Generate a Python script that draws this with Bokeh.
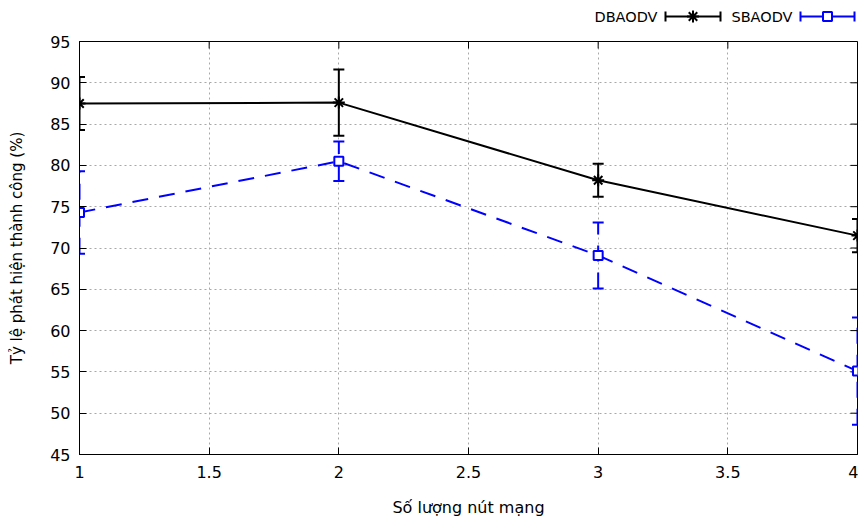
from bokeh.plotting import figure
from bokeh.layouts import column
from bokeh.models import (ColumnDataSource, Whisker, TeeHead, FixedTicker, Range1d)
from bokeh.core.properties import value
from bokeh.embed import file_html
from bokeh.resources import INLINE

# ---- data ----
x_values = [1, 2, 3, 4]
dbaodv = [87.5, 87.6, 78.2, 71.5]
dbaodv_err = [3.2, 4.0, 2.0, 2.0]
sbaodv = [74.3, 80.5, 69.1, 55.1]
sbaodv_err = [5.0, 2.4, 4.0, 6.5]
series_names = ["DBAODV", "SBAODV"]
x_ticks = [1, 1.5, 2, 2.5, 3, 3.5, 4]
x_tick_labels = ["1", "1.5", "2", "2.5", "3", "3.5", "4"]
y_ticks = [45, 50, 55, 60, 65, 70, 75, 80, 85, 90, 95]
x_label = "Số lượng nút mạng"
y_label = "Tỷ lệ phát hiện thành công (%)"

FONT = "DejaVu Sans"
FS = "16px"
BLACK = "#000000"
BLUE = "#0000ff"
DASH = "16 11"

LEFT = 79
RIGHT = 1
FW, FH = 778, 413
LEG_H = 30
TOP = 11
TICK = 7

X0, X1 = 1, 4
Y0, Y1 = 45, 95

# ---------------- main figure ----------------
p = figure(frame_width=FW, frame_height=FH,
           x_range=Range1d(X0, X1), y_range=Range1d(Y0, Y1),
           output_backend="svg", toolbar_location=None,
           min_border_left=LEFT, min_border_top=TOP,
           min_border_right=RIGHT, min_border_bottom=0)
p.background_fill_color = "white"
p.border_fill_color = "white"
p.outline_line_color = BLACK
p.outline_line_width = 1

p.xaxis.ticker = FixedTicker(ticks=x_ticks)
p.xaxis.major_label_overrides = {float(t): l for t, l in zip(x_ticks, x_tick_labels)}
p.yaxis.ticker = FixedTicker(ticks=y_ticks)
for ax in (p.xaxis[0], p.yaxis[0]):
    ax.major_tick_in = TICK
    ax.major_tick_out = 0
    ax.minor_tick_line_color = None
    ax.axis_line_color = BLACK
    ax.major_tick_line_color = BLACK
    ax.major_label_text_font = FONT
    ax.major_label_text_font_size = FS
    ax.major_label_text_color = BLACK
    ax.axis_label_text_font = FONT
    ax.axis_label_text_font_size = FS
    ax.axis_label_text_font_style = "normal"
    ax.axis_label_text_color = BLACK
p.yaxis.axis_label_text_font_size = "15px"
p.xaxis.axis_label = x_label
p.yaxis.axis_label = y_label
p.xaxis.major_label_standoff = 11
p.xaxis.axis_label_standoff = 17
p.yaxis.major_label_standoff = 9
p.yaxis.axis_label_standoff = 21

for g in (p.xgrid[0], p.ygrid[0]):
    g.grid_line_color = "#a8a8a8"
    g.grid_line_dash = "2 3"
    g.grid_line_width = 1
p.ygrid.ticker = FixedTicker(ticks=y_ticks)
p.xgrid.ticker = FixedTicker(ticks=x_ticks)

# mirrored inward ticks on the top and right edges
dx_tick = TICK * (X1 - X0) / FW
dy_tick = TICK * (Y1 - Y0) / FH
p.segment(x0=[X1] * len(y_ticks), y0=y_ticks, x1=[X1 - dx_tick] * len(y_ticks), y1=y_ticks,
          line_color=BLACK, line_width=1)
p.segment(x0=x_ticks, y0=[Y1] * len(x_ticks), x1=x_ticks, y1=[Y1 - dy_tick] * len(x_ticks),
          line_color=BLACK, line_width=1)

src_d = ColumnDataSource(dict(x=x_values, y=dbaodv,
                              lo=[v - e for v, e in zip(dbaodv, dbaodv_err)],
                              hi=[v + e for v, e in zip(dbaodv, dbaodv_err)]))
src_s = ColumnDataSource(dict(x=x_values, y=sbaodv,
                              lo=[v - e for v, e in zip(sbaodv, sbaodv_err)],
                              hi=[v + e for v, e in zip(sbaodv, sbaodv_err)]))

p.add_layout(Whisker(source=src_d, base="x", lower="lo", upper="hi", dimension="height",
                     line_color=BLACK, line_width=2,
                     upper_head=TeeHead(size=11, line_color=BLACK, line_width=2),
                     lower_head=TeeHead(size=11, line_color=BLACK, line_width=2)))
p.add_layout(Whisker(source=src_s, base="x", lower="lo", upper="hi", dimension="height",
                     line_color=BLUE, line_width=2, line_dash=DASH,
                     upper_head=TeeHead(size=11, line_color=BLUE, line_width=2),
                     lower_head=TeeHead(size=11, line_color=BLUE, line_width=2)))

p.line("x", "y", source=src_d, line_color=BLACK, line_width=2)
p.scatter("x", "y", source=src_d, marker="asterisk", size=12, line_color=BLACK, line_width=2)
p.line("x", "y", source=src_s, line_color=BLUE, line_width=2, line_dash=DASH)
p.scatter("x", "y", source=src_s, marker="square", size=9, line_color=BLUE,
          fill_color="white", line_width=2)

# ---------------- legend strip (gnuplot style: text, then sample) ----------------
lg = figure(frame_width=FW, frame_height=LEG_H,
            x_range=Range1d(0, FW), y_range=Range1d(0, LEG_H),
            output_backend="svg", toolbar_location=None,
            min_border_left=LEFT, min_border_right=RIGHT,
            min_border_top=0, min_border_bottom=0,
            x_axis_type=None, y_axis_type=None)
lg.outline_line_color = None
lg.grid.visible = False
lg.background_fill_color = "white"
lg.border_fill_color = "white"

R = FW                 # right edge of the frame, frame-relative
ly = LEG_H - 16
legend_cfg = [(series_names[0], BLACK, R - 200, R - 192, R - 137, "asterisk", 12, None),
              (series_names[1], BLUE, R - 65, R - 57, R - 3, "square", 9, "white")]
for name, color, tx, s0, s1, mk, msize, mfill in legend_cfg:
    lg.text(x=[tx], y=[ly], text=[name], text_align="right", text_baseline="middle",
            text_font=value(FONT), text_font_size=value("14.5px"), text_color=BLACK)
    lg.segment(x0=[s0], y0=[ly], x1=[s1], y1=[ly], line_color=color, line_width=2)
    lg.segment(x0=[s0, s1], y0=[ly - 5, ly - 5], x1=[s0, s1], y1=[ly + 5, ly + 5],
               line_color=color, line_width=2)
    lg.scatter(x=[(s0 + s1) / 2], y=[ly], marker=mk, size=msize, line_color=color,
               fill_color=mfill, line_width=2)

open("out.html", "w").write(file_html(column(lg, p, spacing=0), INLINE))
